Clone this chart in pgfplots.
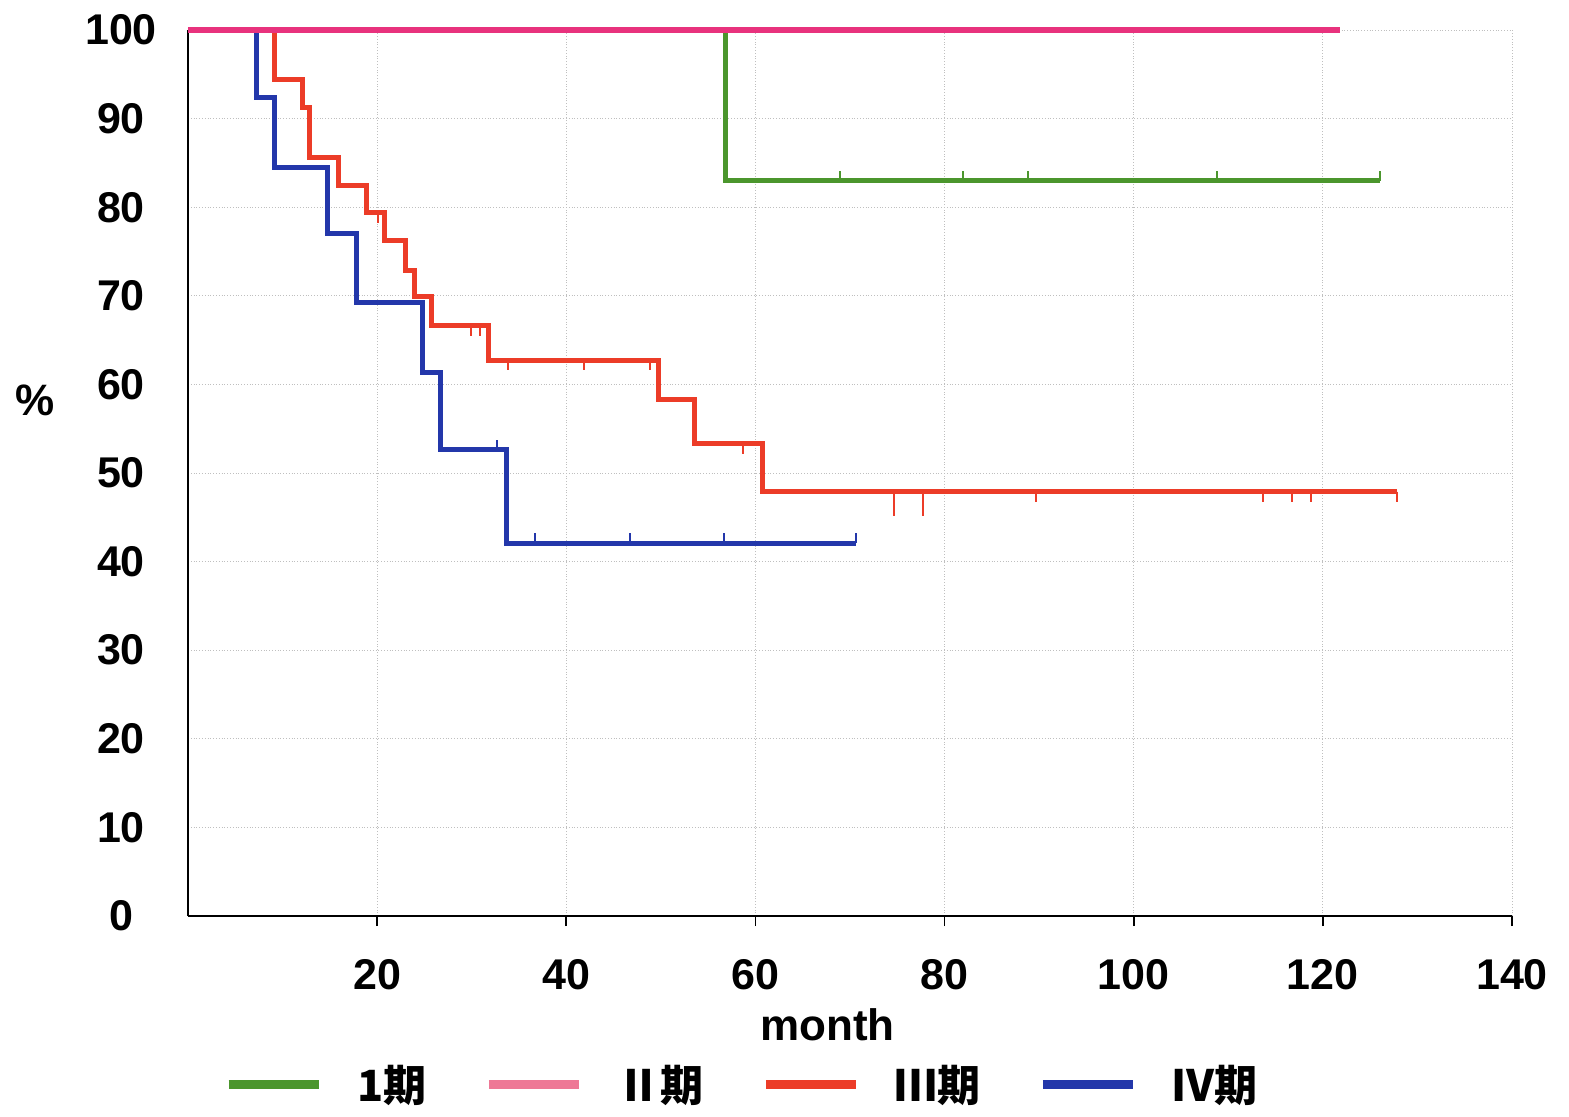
\documentclass[border=0pt]{standalone}
\usepackage{pgfplots}
\pgfplotsset{compat=1.18}
\usepackage{fontspec}
\setmainfont{Liberation Sans}
\newfontfamily\cjk{Noto Sans CJK SC}
\definecolor{cI}{RGB}{75,150,45}
\definecolor{cII}{RGB}{232,50,125}
\definecolor{cIIleg}{RGB}{238,120,150}
\definecolor{cIII}{RGB}{236,60,40}
\definecolor{cIV}{RGB}{35,55,170}
\pgfdeclareplotmark{dtick}{\pgfpathmoveto{\pgfpointorigin}\pgfpathlineto{\pgfpoint{0pt}{-\pgfplotmarksize}}\pgfusepathqstroke}
\pgfdeclareplotmark{utick}{\pgfpathmoveto{\pgfpointorigin}\pgfpathlineto{\pgfpoint{0pt}{\pgfplotmarksize}}\pgfusepathqstroke}
\begin{document}
\begin{tikzpicture}
\path[use as bounding box] (-94pt,-100pt) rectangle (690.5pt,458pt);
\begin{axis}[at={(0,0)}, anchor=south west, scale only axis,
  width=662pt, height=443pt,
  xmin=0, xmax=140, ymin=0, ymax=100, clip=false,
  axis lines=left, axis line style={-, line width=1.3pt},
  xtick={20,40,...,140}, ytick={0,10,...,100},
  grid=major, grid style={densely dotted, gray!50, line width=0.5pt},
  /pgf/number format/assume math mode=true,
  ticklabel style={font=\fontsize{21.5}{24}\selectfont\bfseries},
  xticklabel style={anchor=center, yshift=-24.5pt},
  yticklabel style={anchor=center, xshift=-28.5pt},
  xtick style={draw=black, line width=0.8pt}, tick align=outside, major tick length=5pt,
  ytick style={draw=none},
  xlabel={month}, ylabel={\%},
  xlabel style={font=\fontsize{22}{24}\selectfont\bfseries, at={(axis description cs:0.483,-0.123)}, anchor=center},
  ylabel style={font=\fontsize{22}{24}\selectfont\bfseries, at={(axis description cs:-0.1156,0.582)}, anchor=center, rotate=-90},
  legend image code/.code={\draw[#1, line width=4.5pt] (0pt,0pt) -- (45pt,0pt);},
  legend style={at={(axis description cs:0.419,-0.19)}, anchor=center, draw=none, fill=none,
    font=\cjk\bfseries\fontsize{21.5}{24}\selectfont,
    /tikz/every odd column/.append style={column sep=15pt},
    /tikz/every even column/.append style={column sep=27pt}},
  legend columns=4,
]
% I
\addplot[cI, line width=2.5pt, const plot, forget plot] coordinates {(56.8,100) (56.8,83) (126,83)};
\addplot[cI, line width=1pt, only marks, mark=utick, mark size=5pt, forget plot] coordinates {(68.9,83) (81.9,83) (88.8,83) (108.8,83) (126,83)};
% III
\addplot[cIII, line width=2.5pt, const plot, forget plot] coordinates {
 (0,100) (9.1,94.4) (12.1,91.3) (12.9,85.6) (15.9,82.4) (18.9,79.4) (20.8,76.2) (23.0,72.9) (23.9,69.9) (25.8,66.6) (31.8,62.7) (49.7,58.3) (53.6,53.3) (60.7,47.9) (127.8,47.9)};
\addplot[cIII, line width=1pt, only marks, mark=dtick, mark size=5pt, forget plot] coordinates {
 (20.1,79.4) (29.9,66.6) (30.9,66.6) (33.8,62.7) (41.9,62.7) (48.8,62.7) (58.7,53.3) (89.7,47.9) (113.7,47.9) (116.7,47.9) (118.7,47.9) (127.8,47.9)};
\addplot[cIII, line width=1pt, only marks, mark=dtick, mark size=12pt, forget plot] coordinates {(74.7,47.9) (77.7,47.9)};
% IV
\addplot[cIV, line width=2.5pt, const plot, forget plot] coordinates {
 (0,100) (7.2,92.4) (9.1,84.5) (14.8,77) (17.8,69.2) (24.8,61.4) (26.7,52.6) (33.7,42.1) (70.6,42.1)};
\addplot[cIV, line width=1pt, only marks, mark=utick, mark size=5pt, forget plot] coordinates {
 (32.7,52.6) (36.7,42.1) (46.7,42.1) (56.7,42.1) (70.6,42.1)};
% II
\addplot[cII, line width=2.6pt, forget plot] coordinates {(0,100) (121.8,100)};
\addlegendimage{cI}
\addlegendentry{1期}
\addlegendimage{cIIleg}
\addlegendentry{Ⅱ期}
\addlegendimage{cIII}
\addlegendentry{Ⅲ期}
\addlegendimage{cIV}
\addlegendentry{Ⅳ期}
\end{axis}
\end{tikzpicture}
\end{document}
